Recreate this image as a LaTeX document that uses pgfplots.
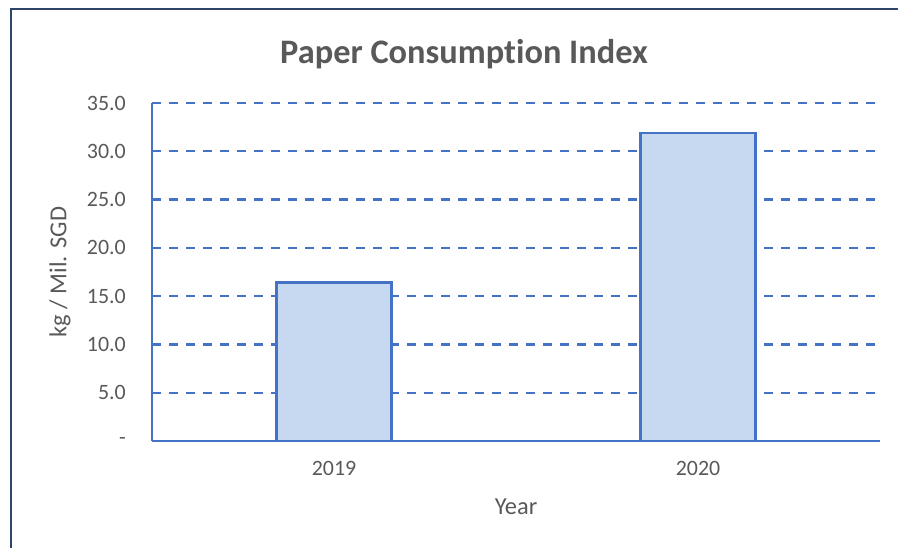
\documentclass[border=0pt]{standalone}
\usepackage{pgfplots}
\pgfplotsset{compat=1.18}
\usepackage{fontspec}
\setmainfont{Carlito}[Ligatures=NoCommon]
\definecolor{gridblue}{HTML}{4472C4}
\definecolor{barfill}{HTML}{C6D9F1}
\definecolor{txtgray}{HTML}{595959}
\definecolor{frame}{HTML}{2C4568}
\begin{document}
\begin{tikzpicture}
\useasboundingbox (0,0) rectangle (898bp,548bp);
\draw[frame, line width=2.4bp] (11bp,0) -- (11bp,539bp) -- (900bp,539bp);
\begin{axis}[
  scale only axis,
  width=728bp, height=338bp,
  at={(152bp,107bp)}, anchor=south west,
  xmin=-0.5, xmax=1.5,
  ymin=0, ymax=35,
  xtick={0,1}, xticklabels={2019,2020},
  ytick={0,5,10,15,20,25,30,35},
  yticklabels={-\hspace{10.5bp},5.0,10.0,15.0,20.0,25.0,30.0,35.0},
  major tick length=0pt,
  tick style={draw=none},
  axis x line=bottom, axis y line=left,
  axis line style={-, draw=gridblue, line width=2.4bp},
  ymajorgrids,
  major grid style={draw=gridblue, line width=2.4bp, dash pattern=on 9bp off 8bp},
  ticklabel style={font=\fontsize{22}{26}\selectfont, text=txtgray},
  yticklabel style={anchor=east, inner sep=0pt, xshift=-26bp},
  xticklabel style={anchor=center, inner sep=0pt, yshift=-27bp},
  ybar, bar width=115bp,
  clip=false,
]
\addplot[fill=barfill, draw=gridblue, line width=2.4bp] coordinates {(0,16.4) (1,31.9)};
\end{axis}
\node[text=txtgray, font=\bfseries\fontsize{34.5}{40}\selectfont] at (464bp,494bp) {Paper Consumption Index};
\node[text=txtgray, font=\fontsize{24.5}{29}\selectfont, rotate=90] at (60bp,276bp) {kg / Mil. SGD};
\node[text=txtgray, font=\fontsize{24.5}{29}\selectfont] at (516bp,41bp) {Year};
\end{tikzpicture}
\end{document}
